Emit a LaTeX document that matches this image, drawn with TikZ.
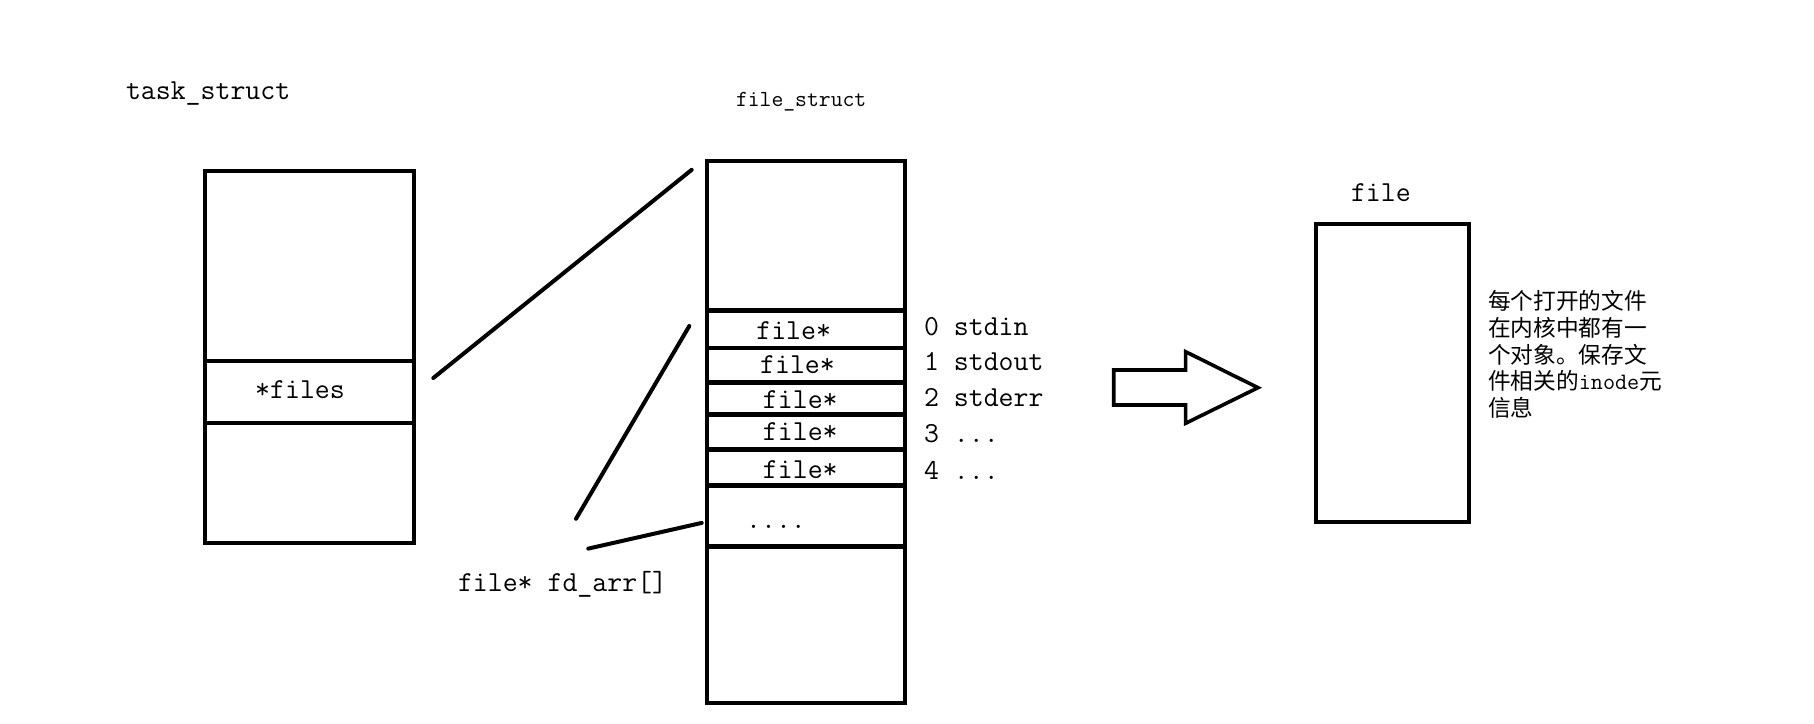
\documentclass[tikz,border=0pt]{standalone}
\usepackage{fontspec}
\newfontfamily\cjk{Noto Sans CJK SC}
\begin{document}
\begin{tikzpicture}[x=1pt,y=-1pt,
  box/.style={draw, line width=4pt, rectangle, inner sep=0pt, outer sep=0pt, anchor=north west},
  lbl/.style={font=\ttfamily\fontsize{29}{31}\selectfont, inner sep=0pt, outer sep=0pt},
  smalllbl/.style={font=\ttfamily\fontsize{23}{25}\selectfont, inner sep=0pt, outer sep=0pt},
  cjkline/.style={font=\cjk\fontsize{22.7}{26.7}\selectfont, inner sep=0pt, outer sep=0pt, anchor=base west},
  link/.style={line width=4pt, line cap=round},
  divider/.style={line width=4.5pt},
  blockarrow/.style={line width=3.6pt, line join=miter}
]
\useasboundingbox (0,0) rectangle (1814,723);
\fill[white] (0,0) rectangle (1814,723);

% task_struct
\node[lbl, anchor=base west] (tasklbl) at (126,99) {task\_struct};
\node[box, minimum width=208.7pt, minimum height=372.5pt] (task) at (205.3,170.5) {};
\draw[line width=4pt] (task.west |- 0,360.5) -- (task.east |- 0,360.5);
\draw[line width=4pt] (task.west |- 0,423.3) -- (task.east |- 0,423.3);
\node[lbl, anchor=base] (files) at (300,398) {*files};

% file_struct
\node[smalllbl, anchor=base west] (fslbl) at (736,106) {file\_struct};
\node[box, line width=4.5pt, minimum width=198pt, minimum height=542pt] (fs) at (707,161) {};
\foreach \yy in {310.3,348.2,382.3,414.3,449.5,485.6,546.6}
  \draw[divider] (fs.west |- 0,\yy) -- (fs.east |- 0,\yy);

\node[lbl, anchor=base] (r0) at (793.7,339) {file*};
\node[lbl, anchor=base] (r1) at (797.5,373.3) {file*};
\node[lbl, anchor=base] (r2) at (800.3,408.3) {file*};
\node[lbl, anchor=base] (r3) at (800.3,440.7) {file*};
\node[lbl, anchor=base] (r4) at (800.3,478.3) {file*};
\node[lbl, anchor=base] (rdots) at (776,528) {....};

\node[lbl, anchor=base west] (i0) at (924,335) {0 stdin};
\node[lbl, anchor=base west] (i1) at (924,370.7) {1 stdout};
\node[lbl, anchor=base west] (i2) at (924,406.7) {2 stderr};
\node[lbl, anchor=base west] (i3) at (924,442.7) {3 ...};
\node[lbl, anchor=base west] (i4) at (924,479) {4 ...};

\node[lbl, anchor=base west] (fdarr) at (458,591) {file* fd\_arr[]};

% connectors
\coordinate (c1a) at (433.3,378);
\coordinate (c1b) at (691.7,169.8);
\coordinate (c2a) at (576,518.8);
\coordinate (c2b) at (689.3,326);
\coordinate (c3a) at (588.3,548.6);
\coordinate (c3b) at (701.7,522.9);
\draw[link] (c1a) -- (c1b);
\draw[link] (c2a) -- (c2b);
\draw[link] (c3a) -- (c3b);

% block arrow
\draw[blockarrow] (1113.7,370) -- (1185.6,370) -- (1185.6,351.7) -- (1258,387.7)
  -- (1185.6,423.3) -- (1185.6,405) -- (1113.7,405) -- cycle;

% file
\node[lbl, anchor=base west] (filelbl) at (1351,201.5) {file};
\node[box, minimum width=153.1pt, minimum height=298.6pt] (filebox) at (1315.7,223.7) {};

% note
\node[cjkline] (n1) at (1488,309.6) {每个打开的文件};
\node[cjkline] (n2) at (1488,336.3) {在内核中都有一};
\node[cjkline] (n3) at (1488,363) {个对象。保存文};
\node[cjkline] (n4) at (1488,389.6) {件相关的{\ttfamily\fontsize{23.5}{26.7}\selectfont inode}元};
\node[cjkline] (n5) at (1488,416.3) {信息};
\end{tikzpicture}
\end{document}
